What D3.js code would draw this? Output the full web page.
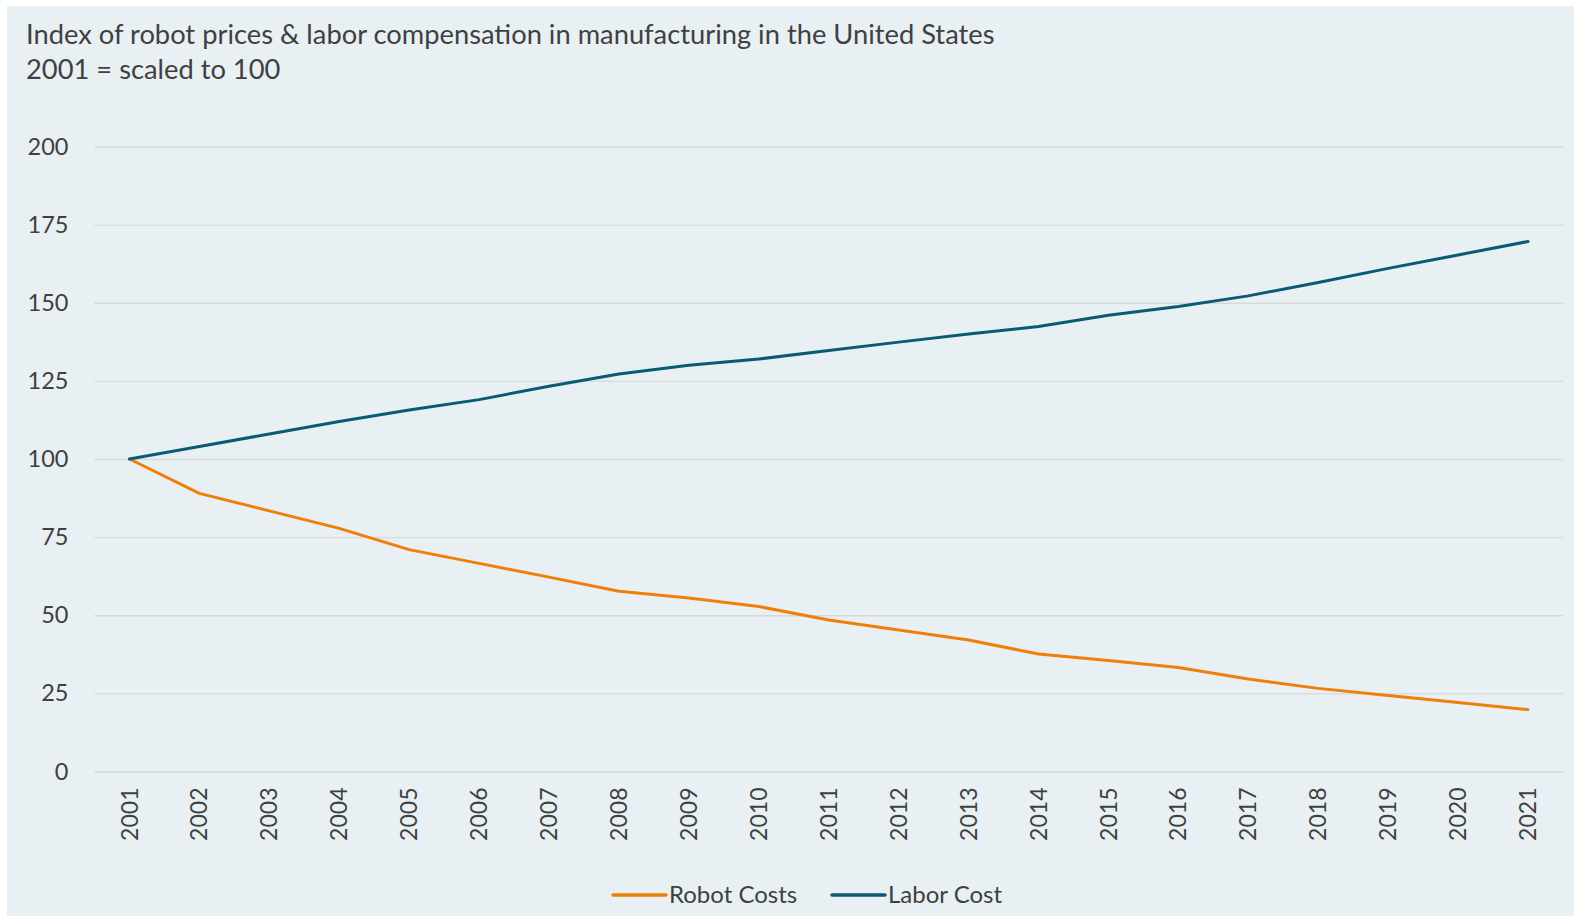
<!DOCTYPE html>
<meta charset="utf-8">
<style>
body { margin: 0; background: #fff; }
text { font-family: Lato, "Open Sans", sans-serif; fill: #404040; }
.grid line { stroke: #d9d9d9; stroke-width: 1.3px; }
.line { fill: none; stroke-width: 3px; stroke-linejoin: round; stroke-linecap: round; }
</style>
<body>
<script src="https://d3js.org/d3.v7.min.js"></script>
<script>

// data
var years = [2001, 2002, 2003, 2004, 2005, 2006, 2007, 2008, 2009, 2010, 2011,
             2012, 2013, 2014, 2015, 2016, 2017, 2018, 2019, 2020, 2021];
var robotCosts = [100, 89, 83.4, 77.8, 71, 66.6, 62.2, 57.7, 55.5, 52.8, 48.5,
                  45.3, 42.1, 37.6, 35.5, 33.3, 29.6, 26.6, 24.3, 22.1, 19.8];
var laborCost = [100, 104, 108, 112, 115.7, 119, 123.3, 127.2, 130, 132, 134.7,
                 137.4, 140, 142.4, 146, 148.8, 152.2, 156.5, 161, 165.3, 169.6];
var yTicks = [0, 25, 50, 75, 100, 125, 150, 175, 200];
var seriesNames = ["Robot Costs", "Labor Cost"];
var seriesColors = ["#f07f09", "#0b5a75"];

var W = 1574, H = 916;
var margin = {top: 146.5, right: 11, bottom: 144.5, left: 94.5},
    width = W - margin.left - margin.right,
    height = H - margin.top - margin.bottom;

var svg = d3.select("body").append("svg")
    .attr("width", W)
    .attr("height", H);

// panel background
svg.append("rect")
    .attr("x", 7).attr("y", 6)
    .attr("width", W - 7).attr("height", H - 6)
    .attr("fill", "#e8f0f3");

// title
svg.append("text")
    .attr("x", 26).attr("y", 44)
    .style("font-size", "27.3px")
    .text("Index of robot prices & labor compensation in manufacturing in the United States");
svg.append("text")
    .attr("x", 26).attr("y", 79)
    .style("font-size", "27.3px")
    .text("2001 = scaled to 100");

var g = svg.append("g")
    .attr("transform", "translate(" + margin.left + "," + margin.top + ")");

var x = d3.scaleBand().domain(years).range([0, width]);
var y = d3.scaleLinear().domain([0, 200]).range([height, 0]);

// gridlines
g.append("g")
    .attr("class", "grid")
  .call(d3.axisLeft(y).tickValues(yTicks).tickSize(-width).tickFormat(""))
  .call(function(s) { s.select(".domain").remove(); });

// y labels
g.append("g")
    .call(d3.axisLeft(y).tickValues(yTicks).tickSize(0).tickPadding(26))
    .call(function(s) {
      s.select(".domain").remove();
      s.selectAll("text").style("font-size", "23.5px").attr("fill", "#404040");
    });

// x labels (rotated)
g.append("g")
    .attr("transform", "translate(0," + height + ")")
    .call(d3.axisBottom(x).tickSize(0).tickFormat(d3.format("d")))
    .call(function(s) {
      s.select(".domain").remove();
      s.selectAll("text")
        .style("font-size", "23px")
        .attr("fill", "#404040")
        .attr("text-anchor", "end")
        .attr("transform", "rotate(-90)")
        .attr("x", -16)
        .attr("y", 0)
        .attr("dy", "0.35em");
    });

var line = d3.line()
    .x(function(d, i) { return x(years[i]) + x.bandwidth() / 2; })
    .y(function(d) { return y(d); });

[robotCosts, laborCost].forEach(function(vals, i) {
  g.append("path")
      .datum(vals)
      .attr("class", "line")
      .attr("stroke", seriesColors[i])
      .attr("d", line);
});

// legend
var legend = svg.append("g").attr("transform", "translate(0,895)");
var legendX = [613, 832];
seriesNames.forEach(function(name, i) {
  legend.append("line")
      .attr("x1", legendX[i]).attr("x2", legendX[i] + 53)
      .attr("y1", 0).attr("y2", 0)
      .attr("stroke", seriesColors[i])
      .attr("stroke-width", 3.5)
      .attr("stroke-linecap", "round");
  legend.append("text")
      .attr("x", legendX[i] + 56)
      .attr("y", 0)
      .attr("dy", "0.35em")
      .style("font-size", "24px")
      .text(name);
});

</script>
</body>
